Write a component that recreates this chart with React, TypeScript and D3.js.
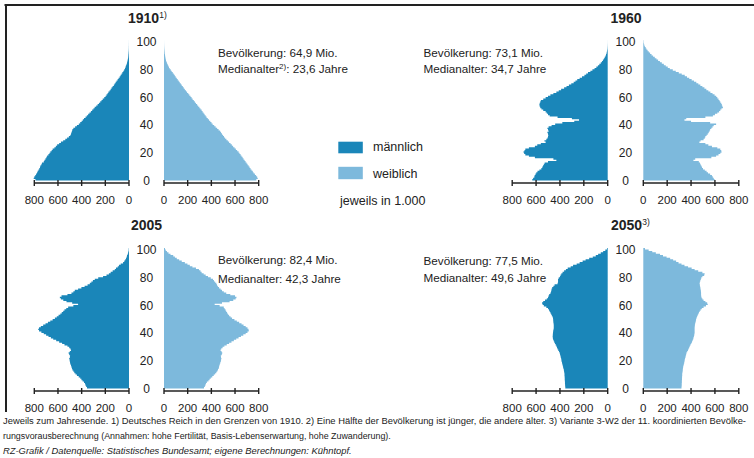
import React from 'react';
import * as d3 from 'd3';

// ---- Data (thousands of persons per single year of age 0..100) ----
const male1910 = [
  790, 805, 800, 792, 785, 777, 772, 765, 758, 752,
  748, 740, 735, 720, 714, 706, 698, 692, 681, 672,
  664, 653, 645, 630, 618, 607, 590, 575, 556, 538,
  523, 508, 496, 490, 486, 482, 478, 470, 455, 440,
  424, 412, 400, 390, 380, 367, 356, 345, 334, 322,
  311, 300, 290, 277, 265, 254, 243, 232, 222, 209,
  198, 190, 181, 174, 164, 155, 147, 138, 128, 121,
  113, 105, 96, 88, 79, 71, 63, 56, 48, 41,
  34, 30, 26, 21, 17, 14, 12, 9, 7, 6,
  5, 4, 3, 2, 1.5, 1, 1, 0.5, 0.5, 0.3, 0.2,
];
const female1910 = [
  780, 792, 787, 778, 768, 757, 750, 740, 731, 723,
  715, 706, 698, 689, 681, 672, 664, 655, 647, 638,
  630, 618, 607, 596, 584, 573, 562, 550, 539, 527,
  516, 507, 499, 490, 482, 474, 461, 449, 436, 424,
  411, 401, 391, 380, 370, 360, 352, 343, 335, 326,
  318, 308, 299, 289, 280, 270, 261, 252, 242, 233,
  224, 214, 205, 195, 186, 176, 167, 159, 150, 142,
  133, 125, 116, 108, 99, 91, 83, 74, 65, 57,
  48, 42, 36, 31, 25, 20, 17, 14, 12, 10,
  8, 6, 5, 4, 3, 2, 1.5, 1, 0.6, 0.4, 0.2,
];
const male1960 = [
  632, 625, 615, 612, 605, 598, 588, 572, 556, 548,
  542, 535, 528, 500, 430, 455, 610, 660, 690, 700,
  705, 697, 690, 660, 610, 590, 560, 520, 530, 514,
  505, 500, 498, 500, 505, 495, 500, 505, 495, 470,
  440, 380, 280, 240, 300, 420, 486, 500, 510, 520,
  540, 555, 565, 570, 572, 570, 565, 560, 540, 520,
  500, 480, 455, 430, 410, 390, 365, 345, 325, 305,
  285, 270, 255, 235, 215, 195, 180, 165, 145, 128,
  110, 95, 82, 70, 58, 48, 40, 32, 25, 19,
  14, 10, 7, 5, 3, 2, 1.5, 1, 0.5, 0.3, 0.2,
];
const female1960 = [
  597, 590, 582, 575, 560, 542, 530, 515, 500, 492,
  486, 480, 475, 465, 420, 435, 570, 610, 630, 645,
  655, 653, 645, 620, 575, 545, 520, 470, 480, 505,
  515, 520, 530, 540, 548, 555, 560, 570, 580, 590,
  610, 560, 400, 345, 360, 520, 583, 600, 620, 635,
  645, 655, 667, 662, 658, 653, 645, 638, 630, 620,
  611, 597, 580, 562, 545, 528, 512, 495, 478, 461,
  444, 425, 405, 385, 366, 347, 322, 297, 272, 247,
  222, 205, 188, 172, 155, 139, 124, 110, 96, 82,
  69, 57, 46, 36, 27, 20, 13, 8, 5, 3, 2,
];
const male2005 = [
  355, 362, 368, 372, 380, 392, 402, 412, 425, 440,
  452, 462, 470, 478, 482, 486, 490, 495, 498, 500,
  502, 505, 500, 498, 505, 510, 500, 490, 495, 505,
  520, 545, 565, 590, 615, 640, 660, 680, 700, 720,
  740, 760, 767, 760, 745, 725, 705, 685, 665, 645,
  626, 610, 595, 580, 568, 556, 545, 530, 514, 470,
  430, 480, 528, 555, 575, 584, 570, 520, 486, 470,
  458, 430, 402, 375, 350, 331, 318, 305, 289, 260,
  219, 190, 170, 155, 138, 120, 110, 95, 85, 70,
  50, 40, 32, 25, 20, 17, 12, 8, 5, 3, 2,
];
const female2005 = [
  338, 345, 350, 355, 362, 375, 385, 395, 408, 420,
  432, 442, 450, 456, 462, 465, 468, 472, 476, 480,
  482, 485, 482, 480, 488, 492, 486, 478, 484, 495,
  510, 530, 550, 570, 590, 610, 630, 650, 670, 690,
  705, 716, 714, 705, 690, 672, 655, 635, 615, 595,
  575, 562, 550, 540, 533, 526, 520, 512, 505, 470,
  428, 490, 554, 585, 605, 612, 600, 560, 526, 505,
  490, 478, 465, 455, 448, 442, 432, 422, 414, 395,
  372, 352, 335, 318, 308, 295, 270, 240, 218, 198,
  176, 150, 128, 108, 92, 78, 55, 38, 25, 15, 8,
];
const male2050 = [
  355, 356, 357, 358, 358, 359, 360, 360, 361, 362,
  362, 364, 366, 368, 371, 374, 377, 380, 383, 386,
  388, 390, 393, 396, 399, 402, 408, 414, 420, 425,
  430, 436, 442, 448, 453, 458, 460, 461, 460, 459,
  458, 456, 454, 452, 452, 452, 453, 455, 456, 457,
  458, 462, 468, 474, 480, 486, 492, 500, 514, 535,
  545, 550, 540, 525, 510, 500, 495, 490, 480, 475,
  472, 470, 465, 455, 445, 420, 416, 416, 416, 410,
  400, 395, 388, 378, 365, 350, 335, 310, 290, 260,
  235, 210, 185, 155, 125, 100, 80, 58, 38, 20, 6,
];
const female2050 = [
  320, 321, 322, 322, 323, 323, 324, 324, 325, 326,
  326, 328, 330, 331, 332, 334, 337, 340, 343, 345,
  347, 350, 353, 356, 359, 362, 368, 374, 380, 385,
  390, 396, 402, 408, 413, 418, 421, 424, 427, 429,
  430, 430, 430, 430, 431, 432, 434, 437, 440, 442,
  445, 450, 455, 460, 466, 472, 480, 490, 505, 525,
  540, 535, 520, 505, 495, 488, 485, 484, 484, 483,
  482, 480, 478, 476, 474, 472, 474, 478, 482, 486,
  495, 510, 514, 495, 460, 430, 405, 375, 345, 320,
  295, 275, 250, 225, 195, 165, 140, 105, 75, 45, 14,
];

const AGES = d3.range(0, 101);
const X_TICKS = [0, 200, 400, 600, 800];
const AGE_TICKS = [0, 20, 40, 60, 80, 100];

const footer1 =
  'Jeweils zum Jahresende. 1) Deutsches Reich in den Grenzen von 1910. 2) Eine Hälfte der Bevölkerung ist jünger, die andere älter. 3) Variante 3-W2 der 11. koordinierten Bevölke-';
const footer2 =
  'rungsvorausberechnung (Annahmen: hohe Fertilität, Basis-Lebenserwartung, hohe Zuwanderung).';
const footer3 = 'RZ-Grafik / Datenquelle: Statistisches Bundesamt; eigene Berechnungen: Kühntopf.';

// ---- Styling / layout ----
const MALE = '#1a86b9';
const FEMALE = '#7db9dc';
const INK = '#222';
const FONT = "'Liberation Sans', Arial, Helvetica, sans-serif";

type Panel = {
  title: string;
  sup?: string;
  male: number[];
  female: number[];
  cx: number;
  half: number;
  span: number;
  bottom: number;
  titleX: number;
  titleY: number;
  annX: number;
  annY: [number, number];
  pop: string;
  med: string;
  medSup?: string;
};

const PANELS: Panel[] = [
  { title: '1910', sup: '1)', male: male1910, female: female1910, cx: 146.5, half: 17.5, span: 94.7, bottom: 180.5, titleX: 143.5, titleY: 23, annX: 218, annY: [56.5, 73], pop: 'Bevölkerung: 64,9 Mio.', med: ': 23,6 Jahre', medSup: '2)' },
  { title: '1960', male: male1960, female: female1960, cx: 625.5, half: 17.8, span: 95.5, bottom: 180.5, titleX: 626, titleY: 23, annX: 423.5, annY: [56.5, 73], pop: 'Bevölkerung: 73,1 Mio.', med: ': 34,7 Jahre' },
  { title: '2005', male: male2005, female: female2005, cx: 146.5, half: 17.5, span: 94.7, bottom: 388.5, titleX: 146.5, titleY: 230, annX: 218, annY: [263.5, 283], pop: 'Bevölkerung: 82,4 Mio.', med: ': 42,3 Jahre' },
  { title: '2050', sup: '3)', male: male2050, female: female2050, cx: 625.5, half: 17.8, span: 95.5, bottom: 388.5, titleX: 626.5, titleY: 230, annX: 423.5, annY: [264.5, 281.5], pop: 'Bevölkerung: 77,5 Mio.', med: ': 49,6 Jahre' },
];

const BAR_H = 1.39;

function Axis({ xs, y }: { xs: d3.ScaleLinear<number, number>; y: number }) {
  return (
    <g>
      <line x1={xs(0)} x2={xs(800)} y1={y} y2={y} stroke={INK} strokeWidth={1.6} />
      {X_TICKS.map((t) => (
        <g key={t}>
          <line x1={xs(t)} x2={xs(t)} y1={y - 3} y2={y + 3} stroke={INK} strokeWidth={1.4} />
          <text x={xs(t)} y={y + 21} textAnchor="middle" fontSize={11.5} fill={INK}>
            {t}
          </text>
        </g>
      ))}
    </g>
  );
}

function Pyramid({ p }: { p: Panel }) {
  const y = d3.scaleLinear().domain([0, 101]).range([p.bottom, p.bottom - 101 * BAR_H]);
  const xm = d3.scaleLinear().domain([0, 800]).range([p.cx - p.half, p.cx - p.half - p.span]);
  const xf = d3.scaleLinear().domain([0, 800]).range([p.cx + p.half, p.cx + p.half + p.span]);
  const mk = (xs: d3.ScaleLinear<number, number>, vals: number[]) => {
    const pts: [number, number][] = AGES.map((a) => [a, vals[a]] as [number, number]);
    pts.push([101, vals[100]]);
    return (
      d3
        .area<[number, number]>()
        .y((d) => y(d[0]))
        .x0(xs(0))
        .x1((d) => xs(d[1]))
        .curve(d3.curveStepBefore)(pts) || ''
    );
  };
  const axisY = p.bottom + 2.5;
  return (
    <g>
      <path d={mk(xm, p.male)} fill={MALE} />
      <path d={mk(xf, p.female)} fill={FEMALE} />
      {AGE_TICKS.map((a) => (
        <text key={a} x={p.cx} y={y(a) + 4.5} textAnchor="middle" fontSize={12} fill={INK}>
          {a}
        </text>
      ))}
      <Axis xs={xm} y={axisY} />
      <Axis xs={xf} y={axisY} />
      <text x={p.titleX} y={p.titleY} textAnchor="middle" fontSize={14} fontWeight="bold" fill={INK}>
        {p.title}
      </text>
      {p.sup && (
        <text x={p.titleX + 15.8} y={p.titleY - 5} fontSize={8.5} fill={INK}>
          {p.sup}
        </text>
      )}
      <text x={p.annX} y={p.annY[0]} fontSize={11.7} fill={INK}>
        {p.pop}
      </text>
      <text x={p.annX} y={p.annY[1]} fontSize={11.7} fill={INK}>
        Medianalter
        {p.medSup && (
          <tspan fontSize={8} dy={-4}>
            {p.medSup}
          </tspan>
        )}
        {p.medSup ? <tspan dy={4}>{p.med}</tspan> : p.med}
      </text>
    </g>
  );
}

export default function App() {
  return (
    <svg
      width={754}
      height={458}
      viewBox="0 0 754 458"
      style={{ position: 'absolute', left: 0, top: 0, background: '#fff' }}
      fontFamily={FONT}
    >
      <rect x={0} y={0} width={754} height={458} fill="#fff" />
      <line x1={4.5} x2={754} y1={5} y2={5} stroke={INK} strokeWidth={2} />
      <line x1={6} x2={6} y1={4} y2={412} stroke={INK} strokeWidth={2} />
      {PANELS.map((p) => (
        <Pyramid key={p.title} p={p} />
      ))}
      {/* legend */}
      <rect x={338.3} y={141.7} width={24.5} height={11.6} fill={MALE} />
      <rect x={338.3} y={166.8} width={24.5} height={12.4} fill={FEMALE} />
      <text x={373} y={151} fontSize={12.5} fill={INK}>männlich</text>
      <text x={373} y={177.5} fontSize={12.5} fill={INK}>weiblich</text>
      <text x={340} y={205} fontSize={12.5} fill={INK}>jeweils in 1.000</text>
      {/* footer */}
      <text x={3} y={424} fontSize={8.9} fill={INK} textLength={743} lengthAdjust="spacingAndGlyphs">
        {footer1}
      </text>
      <text x={3} y={439} fontSize={8.9} fill={INK}>
        {footer2}
      </text>
      <text x={3} y={454} fontSize={9.4} fontStyle="italic" fill={INK}>
        {footer3}
      </text>
    </svg>
  );
}
